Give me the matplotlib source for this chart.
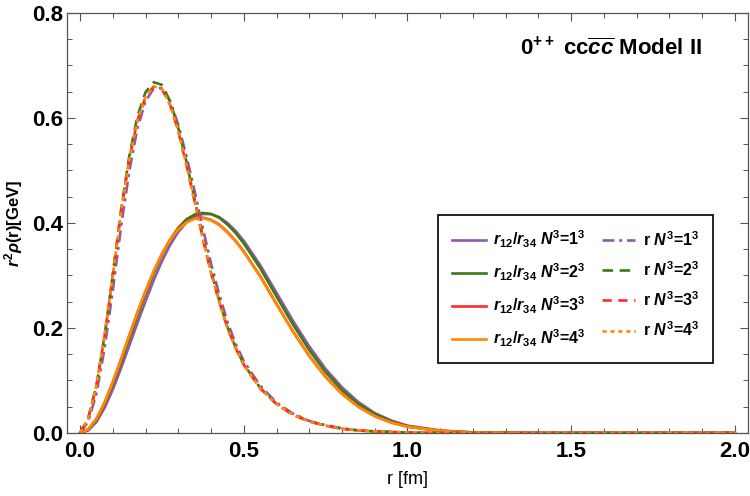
# r^2 rho(r) distributions, 0++ cccc Model II

import numpy as np
import matplotlib.pyplot as plt
from matplotlib.ticker import MultipleLocator

plt.rcParams['font.family'] = ['Liberation Sans', 'DejaVu Sans']
plt.rcParams['mathtext.fontset'] = 'custom'
plt.rcParams['mathtext.rm'] = 'Liberation Sans:bold'
plt.rcParams['mathtext.bf'] = 'Liberation Sans:bold'
plt.rcParams['mathtext.it'] = 'Liberation Sans:bold:italic'

# Data
r = [0, 0.025, 0.05, 0.075, 0.1, 0.125, 0.15, 0.175, 0.2, 0.225, 0.25, 0.275, 0.3,
     0.325, 0.35, 0.375, 0.4, 0.425, 0.45, 0.475, 0.5, 0.55, 0.6, 0.65, 0.7, 0.75,
     0.8, 0.85, 0.9, 0.95, 1.0, 1.1, 1.2, 1.4, 1.7, 2.0]

# r12/r34 distributions (solid)
rel_n1 = [0, 0.005, 0.021, 0.048, 0.083, 0.123, 0.166, 0.209, 0.251, 0.291, 0.327, 0.358,
          0.383, 0.401, 0.412, 0.417, 0.417, 0.411, 0.4, 0.385, 0.366, 0.32, 0.267, 0.214,
          0.165, 0.122, 0.087, 0.059, 0.038, 0.024, 0.014, 0.005, 0.001, 0, 0, 0]
rel_n2 = [0, 0.006, 0.025, 0.055, 0.093, 0.135, 0.179, 0.223, 0.265, 0.304, 0.339, 0.368,
          0.391, 0.407, 0.416, 0.419, 0.417, 0.41, 0.397, 0.381, 0.361, 0.314, 0.26, 0.207,
          0.158, 0.116, 0.082, 0.055, 0.036, 0.022, 0.013, 0.004, 0.001, 0, 0, 0]
rel_n3 = [0, 0.007, 0.027, 0.058, 0.097, 0.14, 0.185, 0.229, 0.27, 0.308, 0.341, 0.368,
          0.389, 0.402, 0.409, 0.41, 0.406, 0.397, 0.383, 0.366, 0.346, 0.299, 0.246, 0.194,
          0.147, 0.107, 0.075, 0.05, 0.032, 0.02, 0.012, 0.004, 0.001, 0, 0, 0]
rel_n4 = [0, 0.007, 0.027, 0.058, 0.097, 0.14, 0.185, 0.229, 0.27, 0.308, 0.341, 0.368,
          0.388, 0.401, 0.408, 0.409, 0.405, 0.396, 0.382, 0.365, 0.345, 0.298, 0.245, 0.193,
          0.146, 0.106, 0.074, 0.05, 0.032, 0.02, 0.012, 0.004, 0.001, 0, 0, 0]

# r distributions (dashed)
r_n1 = [0, 0.022, 0.075, 0.162, 0.272, 0.392, 0.497, 0.58, 0.632, 0.656, 0.657, 0.632,
        0.587, 0.527, 0.46, 0.39, 0.323, 0.264, 0.212, 0.17, 0.137, 0.09, 0.058, 0.037,
        0.023, 0.015, 0.009, 0.005, 0.003, 0.002, 0.001, 0, 0, 0, 0, 0]
r_n2 = [0, 0.028, 0.09, 0.186, 0.302, 0.424, 0.526, 0.603, 0.649, 0.668, 0.663, 0.632,
        0.581, 0.516, 0.445, 0.374, 0.308, 0.252, 0.202, 0.163, 0.131, 0.086, 0.055, 0.035,
        0.022, 0.014, 0.008, 0.005, 0.003, 0.002, 0.001, 0, 0, 0, 0, 0]
r_n3 = [0, 0.028, 0.09, 0.185, 0.3, 0.42, 0.52, 0.595, 0.64, 0.66, 0.655, 0.625,
        0.575, 0.51, 0.44, 0.37, 0.305, 0.25, 0.2, 0.162, 0.13, 0.085, 0.055, 0.035,
        0.022, 0.014, 0.008, 0.005, 0.003, 0.002, 0.001, 0, 0, 0, 0, 0]
r_n4 = [0, 0.028, 0.09, 0.185, 0.3, 0.42, 0.52, 0.595, 0.64, 0.66, 0.655, 0.625,
        0.575, 0.51, 0.44, 0.37, 0.305, 0.25, 0.2, 0.162, 0.13, 0.085, 0.055, 0.035,
        0.022, 0.014, 0.008, 0.005, 0.003, 0.002, 0.001, 0, 0, 0, 0, 0]

n_labels = ['1', '2', '3', '4']
colors = ['#8e5ba6', '#3d7a12', '#ff2a2a', '#ff8a00']
dash_styles = [(0, (4.5, 1.8, 1.2, 1.8)), (0, (4, 2.5)), (0, (3.5, 2.5)), (0, (1.6, 1.4))]

fig = plt.figure(figsize=(7.5, 4.96), dpi=100)
ax = fig.add_axes([0.0893, 0.127, 0.908, 0.847])

for vals, c, n in zip([rel_n1, rel_n2, rel_n3, rel_n4], colors, n_labels):
    ax.plot(r, vals, color=c, lw=1.9,
            label=r'$r_{12}/r_{34}$ $N^3$=%s$^3$' % n)
for vals, c, ls, n in zip([r_n1, r_n2, r_n3, r_n4], colors, dash_styles, n_labels):
    ax.plot(r, vals, color=c, lw=1.9, linestyle=ls,
            label=r'r $N^3$=%s$^3$' % n)

ax.set_xlim(-0.04, 2.04)
ax.set_ylim(0, 0.8)
ax.xaxis.set_major_locator(MultipleLocator(0.5))
ax.xaxis.set_minor_locator(MultipleLocator(0.1))
ax.yaxis.set_major_locator(MultipleLocator(0.2))
ax.yaxis.set_minor_locator(MultipleLocator(0.05))
ax.xaxis.set_major_formatter(plt.FormatStrFormatter('%.1f'))
ax.yaxis.set_major_formatter(plt.FormatStrFormatter('%.1f'))
ax.tick_params(which='both', direction='in', top=True, right=True, color='#555555')
ax.tick_params(which='major', length=6, width=0.8, labelsize=16)
ax.tick_params(axis='y', which='major', pad=3)
ax.tick_params(axis='x', which='major', pad=6)
ax.tick_params(which='minor', length=3.5, width=0.7)
for lab in ax.get_xticklabels() + ax.get_yticklabels():
    lab.set_fontweight('bold')
for s in ax.spines.values():
    s.set_color('#555555')
    s.set_linewidth(0.9)

ax.set_xlabel('r [fm]', fontsize=13, labelpad=6)
ax.set_ylabel(r'$r^2\rho$(r)[GeV]', fontsize=12, fontweight='bold')
ax.yaxis.set_label_coords(-0.062, 0.5)

ax.text(0.932, 0.915, r'0$^{++}$ cc$\overline{cc}$ Model II', transform=ax.transAxes,
        fontsize=16, fontweight='bold', ha='right', va='center')

leg = ax.legend(ncol=2, loc='upper left', bbox_to_anchor=(0.545, 0.52),
                frameon=True, fancybox=False, edgecolor='black', framealpha=1,
                prop={'size': 11.5, 'weight': 'bold'}, handlelength=2.1,
                handletextpad=0.45, columnspacing=1.0, labelspacing=0.72,
                borderpad=0.9, borderaxespad=0)
leg.get_frame().set_linewidth(1.2)

fig.savefig('out.png', dpi=100)
